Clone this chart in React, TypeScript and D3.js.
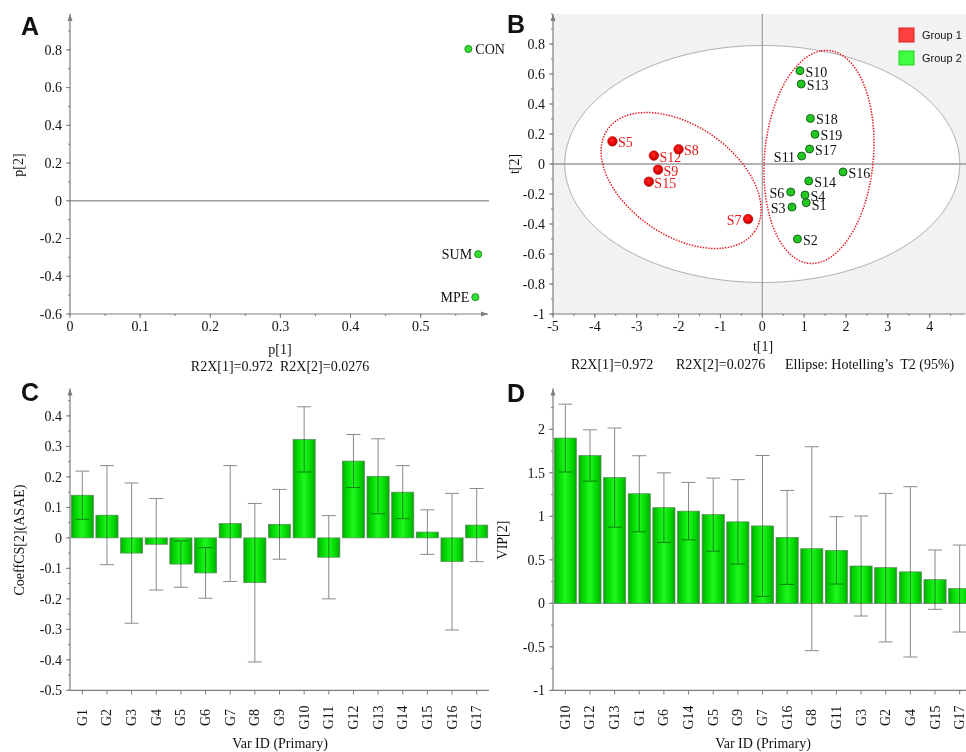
import React from 'react';
import * as d3 from 'd3';

// ---------- Data ----------
const loadingNames = ['CON', 'SUM', 'MPE'];
const loadingP1 = [0.568, 0.582, 0.578];
const loadingP2 = [0.805, -0.283, -0.511];
const loadingLabelLeft = ['SUM', 'MPE'];

const scoreNames = ['S5', 'S12', 'S8', 'S9', 'S15', 'S7', 'S10', 'S13', 'S18', 'S19', 'S17', 'S11', 'S16', 'S14', 'S6', 'S4', 'S1', 'S3', 'S2'];
const scoreT1 = [-3.58, -2.59, -2.0, -2.49, -2.71, -0.34, 0.9, 0.93, 1.15, 1.26, 1.13, 0.94, 1.93, 1.11, 0.68, 1.02, 1.05, 0.71, 0.84];
const scoreT2 = [0.151, 0.056, 0.098, -0.038, -0.118, -0.367, 0.622, 0.533, 0.304, 0.198, 0.1, 0.053, -0.053, -0.113, -0.187, -0.207, -0.258, -0.287, -0.5];
const scoreGroup = [1, 1, 1, 1, 1, 1, 2, 2, 2, 2, 2, 2, 2, 2, 2, 2, 2, 2, 2];
const scoreLabelLeft = ['S7', 'S11', 'S6', 'S3'];
const scoreLabelBelow = ['S1'];
const groupNames = ['Group 1', 'Group 2'];

// Hotelling T2 ellipse semi-axes (t1, t2)
const hotellingAxes = [4.72, 0.79];
// group ellipses: center, conjugate semi-diameters (data units)
const groupEllipseCenters = [[-1.94, -0.11], [1.354, 0.047]];
const groupEllipseU = [[1.76, -0.339], [0.048, 0.707]];
const groupEllipseV = [[-0.745, -0.301], [1.314, 0.067]];

const coeffVars = ['G1', 'G2', 'G3', 'G4', 'G5', 'G6', 'G7', 'G8', 'G9', 'G10', 'G11', 'G12', 'G13', 'G14', 'G15', 'G16', 'G17'];
const coeffValues = [0.14, 0.0745, -0.05, -0.021, -0.086, -0.115, 0.047, -0.147, 0.0445, 0.323, -0.0635, 0.252, 0.202, 0.15, 0.019, -0.078, 0.042];
const coeffErrors = [0.079, 0.1625, 0.23, 0.15, 0.076, 0.083, 0.19, 0.26, 0.1145, 0.107, 0.1365, 0.087, 0.123, 0.087, 0.073, 0.224, 0.12];

const vipVars = ['G10', 'G12', 'G13', 'G1', 'G6', 'G14', 'G5', 'G9', 'G7', 'G16', 'G8', 'G11', 'G3', 'G2', 'G4', 'G15', 'G17'];
const vipValues = [1.9, 1.7, 1.446, 1.26, 1.1, 1.06, 1.02, 0.937, 0.89, 0.758, 0.628, 0.609, 0.429, 0.41, 0.362, 0.272, 0.17];
const vipErrors = [0.39, 0.295, 0.57, 0.437, 0.4, 0.33, 0.42, 0.485, 0.81, 0.54, 1.172, 0.387, 0.575, 0.854, 0.979, 0.341, 0.5];

const aXTicks = [0, 0.1, 0.2, 0.3, 0.4, 0.5];
const aYTicks = [-0.6, -0.4, -0.2, 0, 0.2, 0.4, 0.6, 0.8];
const bXTicks = [-5, -4, -3, -2, -1, 0, 1, 2, 3, 4];
const bYTicks = [-1, -0.8, -0.6, -0.4, -0.2, 0, 0.2, 0.4, 0.6, 0.8];
const cYTicks = [-0.5, -0.4, -0.3, -0.2, -0.1, 0, 0.1, 0.2, 0.3, 0.4];
const dYTicks = [-1, -0.5, 0, 0.5, 1, 1.5, 2];

// ---------- Styles ----------
const SERIF = '"Liberation Serif", "Times New Roman", serif';
const SANS = '"Liberation Sans", Arial, sans-serif';
const AXIS = '#7d7d7d';
const FS = 14;

const fmt = (v: number) => String(+v.toFixed(2));

function YAxis({ scale, x, ticks, minorStep }: any) {
  const [d0, d1] = scale.domain();
  const minors = d3.range(Math.ceil(d0 / minorStep - 1e-6), Math.floor(d1 / minorStep + 1e-6) + 1).map((k: number) => k * minorStep);
  const r = scale.range();
  const top = Math.min(r[0], r[1]);
  const bot = Math.max(r[0], r[1]);
  return (
    <g>
      <line x1={x} x2={x} y1={top} y2={bot} stroke={AXIS} strokeWidth={1.2} />
      <path d={`M${x - 2.5},${top + 7}L${x},${top}L${x + 2.5},${top + 7}Z`} fill={AXIS} />
      {minors.map((v: number, i: number) => (
        <line key={'m' + i} x1={x - 2} x2={x} y1={scale(v)} y2={scale(v)} stroke={AXIS} />
      ))}
      {ticks.map((v: number, i: number) => (
        <g key={i}>
          <line x1={x - 4} x2={x} y1={scale(v)} y2={scale(v)} stroke={AXIS} />
          <text x={x - 8} y={scale(v)} dy="0.35em" textAnchor="end" fontFamily={SERIF} fontSize={FS} fill="#111">{fmt(v)}</text>
        </g>
      ))}
    </g>
  );
}

function XAxisLinear({ scale, y, ticks, minorStep, arrow }: any) {
  const [d0, d1] = scale.domain();
  const minors = d3.range(Math.ceil(d0 / minorStep - 1e-6), Math.floor(d1 / minorStep + 1e-6) + 1).map((k: number) => k * minorStep);
  const [r0, r1] = scale.range();
  return (
    <g>
      <line x1={r0} x2={r1} y1={y} y2={y} stroke={AXIS} strokeWidth={1.2} />
      {arrow && <path d={`M${r1 - 7},${y - 2.5}L${r1},${y}L${r1 - 7},${y + 2.5}Z`} fill={AXIS} />}
      {minors.map((v: number, i: number) => (
        <line key={'m' + i} x1={scale(v)} x2={scale(v)} y1={y} y2={y + 2} stroke={AXIS} />
      ))}
      {ticks.map((v: number, i: number) => (
        <g key={i}>
          <line x1={scale(v)} x2={scale(v)} y1={y} y2={y + 4} stroke={AXIS} />
          <text x={scale(v)} y={y + 17} textAnchor="middle" fontFamily={SERIF} fontSize={FS} fill="#111">{fmt(v)}</text>
        </g>
      ))}
    </g>
  );
}

function BarPanel({ vars, values, errors, xRange, yDomain, yTicks, minorStep, yLabel, zeroColor }: any) {
  const x = d3.scaleBand().domain(vars).range(xRange).paddingInner(0.1).paddingOuter(0.05);
  const y = d3.scaleLinear().domain(yDomain).range([690.3, 388.5]);
  const y0 = y(0);
  const axisX = xRange[0];
  return (
    <g>
      <YAxis scale={y} x={axisX} ticks={yTicks} minorStep={minorStep} />
      <line x1={axisX} x2={xRange[1]} y1={690.3} y2={690.3} stroke={AXIS} strokeWidth={1.2} />
      {vars.map((v: string) => {
        const cxp = (x(v) as number) + x.bandwidth() / 2;
        return (
          <g key={v}>
            <line x1={cxp} x2={cxp} y1={690.3} y2={694.5} stroke={AXIS} />
            <text transform={`translate(${cxp + 4.5},717.5) rotate(-90)`} textAnchor="middle" fontFamily={SERIF} fontSize={FS} fill="#111">{v}</text>
          </g>
        );
      })}
      {zeroColor && <line x1={axisX} x2={xRange[1]} y1={y0} y2={y0} stroke={zeroColor} strokeWidth={1} />}
      {vars.map((v: string, i: number) => {
        const val = values[i];
        return (
          <rect key={'b' + v} x={x(v)} y={Math.min(y(val), y0)} width={x.bandwidth()} height={Math.abs(y(val) - y0)}
            fill="url(#barGrad)" stroke="#5f8a5f" strokeWidth={0.7} />
        );
      })}
      {vars.map((v: string, i: number) => {
        const cxp = (x(v) as number) + x.bandwidth() / 2;
        const lo = y(values[i] - errors[i]);
        const hi = y(values[i] + errors[i]);
        return (
          <g key={'e' + v} stroke="#8a8a8a" strokeWidth={1} style={{ mixBlendMode: 'multiply' }}>
            <line x1={cxp} x2={cxp} y1={lo} y2={hi} />
            <line x1={cxp - 7} x2={cxp + 7} y1={lo} y2={lo} />
            <line x1={cxp - 7} x2={cxp + 7} y1={hi} y2={hi} />
          </g>
        );
      })}
      <text transform={`translate(${axisX - 46},540) rotate(-90)`} textAnchor="middle" fontFamily={SERIF} fontSize={FS} fill="#111">{yLabel}</text>
      <text x={axisX + 210} y={748} textAnchor="middle" fontFamily={SERIF} fontSize={FS} fill="#111">Var ID (Primary)</text>
    </g>
  );
}

export default function App() {
  const ax = d3.scaleLinear().domain([0, 0.596]).range([70, 488]);
  const ay = d3.scaleLinear().domain([-0.6, 0.99]).range([314, 14]);
  const bx = d3.scaleLinear().domain([-5, 4.85]).range([553, 965.3]);
  const by = d3.scaleLinear().domain([-1, 1.0]).range([314, 14]);

  const phis = d3.range(0, 361, 3).map((d: number) => (d * Math.PI) / 180);
  const line = d3.line<number[]>().x((d) => bx(d[0])).y((d) => by(d[1])).curve(d3.curveLinearClosed);
  const hotellingPath = line(phis.map((p: number) => [hotellingAxes[0] * Math.cos(p), hotellingAxes[1] * Math.sin(p)]));
  const groupPaths = groupEllipseCenters.map((c, gi) =>
    line(phis.map((p: number) => [
      c[0] + groupEllipseU[gi][0] * Math.cos(p) + groupEllipseV[gi][0] * Math.sin(p),
      c[1] + groupEllipseU[gi][1] * Math.cos(p) + groupEllipseV[gi][1] * Math.sin(p),
    ]))
  );

  return (
    <svg width={966} height={752} style={{ position: 'absolute', left: 0, top: 0, background: '#fff' }}>
      <defs>
        <linearGradient id="barGrad" x1="0" x2="1" y1="0" y2="0">
          <stop offset="0" stopColor="#0aa20a" />
          <stop offset="0.18" stopColor="#00d400" />
          <stop offset="0.5" stopColor="#1ff81f" />
          <stop offset="0.82" stopColor="#00d400" />
          <stop offset="1" stopColor="#0aa20a" />
        </linearGradient>
        <radialGradient id="redDot" cx="0.45" cy="0.4" r="0.6">
          <stop offset="0" stopColor="#ff2a2a" />
          <stop offset="0.7" stopColor="#e00000" />
          <stop offset="1" stopColor="#a80000" />
        </radialGradient>
      </defs>

      {/* ===== Panel A ===== */}
      <text x={21} y={35} fontFamily={SANS} fontWeight="bold" fontSize={25} fill="#111">A</text>
      <line x1={70} x2={489} y1={ay(0)} y2={ay(0)} stroke="#9a9a9a" strokeWidth={1.6} />
      <YAxis scale={ay} x={70} ticks={aYTicks} minorStep={0.1} />
      <XAxisLinear scale={ax} y={314} ticks={aXTicks} minorStep={0.05} arrow />
      {loadingNames.map((n, i) => {
        const px = ax(loadingP1[i]);
        const py = ay(loadingP2[i]);
        const left = loadingLabelLeft.includes(n);
        return (
          <g key={n}>
            <circle cx={px} cy={py} r={3.6} fill="#33e033" stroke="#1b7a1b" strokeWidth={0.8} />
            <text x={left ? px - 6 : px + 7} y={py} dy="0.35em" textAnchor={left ? 'end' : 'start'} fontFamily={SERIF} fontSize={FS} fill="#111">{n}</text>
          </g>
        );
      })}
      <text transform="translate(23,165) rotate(-90)" textAnchor="middle" fontFamily={SERIF} fontSize={FS} fill="#111">p[2]</text>
      <text x={280} y={354} textAnchor="middle" fontFamily={SERIF} fontSize={FS} fill="#111">p[1]</text>
      <text x={280} y={371} textAnchor="middle" fontFamily={SERIF} fontSize={FS} fill="#111" style={{ whiteSpace: 'pre' }}>{'R2X[1]=0.972  R2X[2]=0.0276'}</text>

      {/* ===== Panel B ===== */}
      <rect x={553} y={14} width={413} height={300} fill="#f2f2f2" />
      <path d={hotellingPath || ''} fill="#fff" stroke="#b0b0b0" strokeWidth={1} />
      <line x1={bx(0)} x2={bx(0)} y1={14} y2={314} stroke="#9a9a9a" strokeWidth={1.2} />
      <line x1={553} x2={966} y1={by(0)} y2={by(0)} stroke="#9a9a9a" strokeWidth={1.6} />
      {groupPaths.map((p, i) => (
        <path key={i} d={p || ''} fill="none" stroke="#e8141e" strokeWidth={1.5} strokeDasharray="1.4 1.4" />
      ))}
      <text x={507} y={33} fontFamily={SANS} fontWeight="bold" fontSize={25} fill="#111">B</text>
      <YAxis scale={by} x={553} ticks={bYTicks} minorStep={0.1} />
      <XAxisLinear scale={bx} y={314} ticks={bXTicks} minorStep={0.5} />
      {scoreNames.map((n, i) => {
        const px = bx(scoreT1[i]);
        const py = by(scoreT2[i]);
        const left = scoreLabelLeft.includes(n);
        const below = scoreLabelBelow.includes(n);
        const red = scoreGroup[i] === 1;
        return (
          <g key={n}>
            {red ? (
              <circle cx={px} cy={py} r={4.8} fill="url(#redDot)" stroke="#b01010" strokeWidth={0.6} />
            ) : (
              <circle cx={px} cy={py} r={4} fill="#22c822" stroke="#115511" strokeWidth={0.9} />
            )}
            <text x={left ? px - 6.5 : px + 5.5} y={py + (below ? 2.5 : 1)} dy="0.35em" textAnchor={left ? 'end' : 'start'} fontFamily={SERIF} fontSize={FS} fill={red ? '#e81818' : '#111'}>{n}</text>
          </g>
        );
      })}
      {groupNames.map((g, i) => (
        <g key={g}>
          <rect x={899} y={28 + i * 23} width={15} height={14} fill={i === 0 ? '#ff4040' : '#40ff40'} stroke={i === 0 ? '#e02020' : '#22d022'} strokeWidth={1} />
          <text x={922} y={35 + i * 23} dy="0.35em" fontFamily={SANS} fontSize={11} fill="#111">{g}</text>
        </g>
      ))}
      <text transform="translate(519,164) rotate(-90)" textAnchor="middle" fontFamily={SERIF} fontSize={FS} fill="#111">t[2]</text>
      <text x={763} y={351} textAnchor="middle" fontFamily={SERIF} fontSize={FS} fill="#111">t[1]</text>
      <text x={571} y={369} fontFamily={SERIF} fontSize={FS} fill="#111">R2X[1]=0.972</text>
      <text x={676} y={369} fontFamily={SERIF} fontSize={FS} fill="#111">R2X[2]=0.0276</text>
      <text x={785} y={369} fontFamily={SERIF} fontSize={FS} fill="#111" style={{ whiteSpace: 'pre' }}>{'Ellipse: Hotelling\u2019s  T2 (95%)'}</text>

      {/* ===== Panel C ===== */}
      <text x={21} y={401} fontFamily={SANS} fontWeight="bold" fontSize={25} fill="#111">C</text>
      <BarPanel vars={coeffVars} values={coeffValues} errors={coeffErrors} xRange={[70, 489]} yDomain={[-0.5, 0.49]}
        yTicks={cYTicks} minorStep={0.05} yLabel="CoeffCS[2](ASAE)" zeroColor={null} />

      {/* ===== Panel D ===== */}
      <text x={507} y={402} fontFamily={SANS} fontWeight="bold" fontSize={25} fill="#111">D</text>
      <BarPanel vars={vipVars} values={vipValues} errors={vipErrors} xRange={[553, 972]} yDomain={[-1, 2.47]}
        yTicks={dYTicks} minorStep={0.25} yLabel="VIP[2]" zeroColor="#c78ac7" />
    </svg>
  );
}
